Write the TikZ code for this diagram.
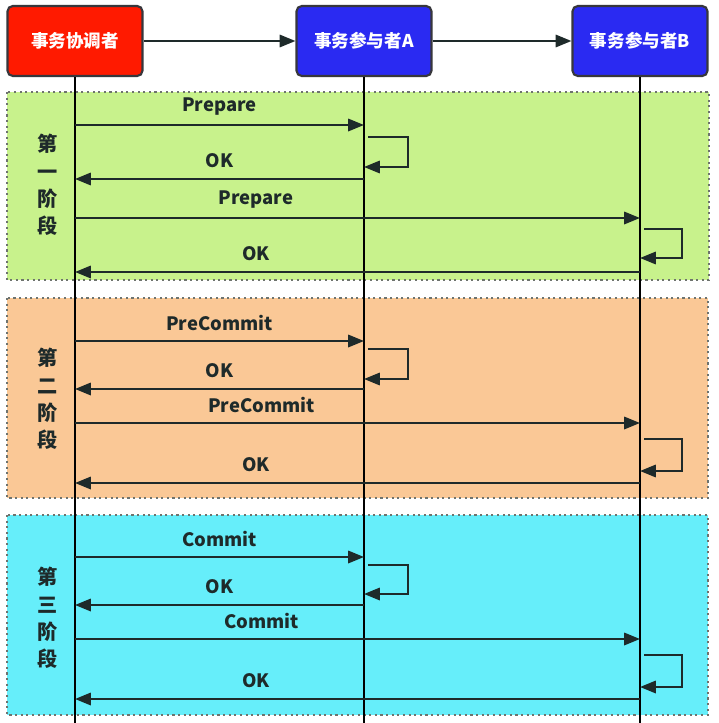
\documentclass[tikz,border=0pt]{standalone}
\usepackage{fontspec}
\setmainfont{Noto Sans CJK SC}
\usetikzlibrary{arrows.meta}

\definecolor{hdrred}{RGB}{255,26,0}
\definecolor{hdrblue}{RGB}{42,42,242}
\definecolor{hdrline}{RGB}{55,55,60}
\definecolor{phgreen}{RGB}{200,242,140}
\definecolor{phorange}{RGB}{250,200,150}
\definecolor{phcyan}{RGB}{102,238,250}
\definecolor{dotgray}{RGB}{110,115,110}
\definecolor{ink}{RGB}{30,42,42}

\tikzset{
  hdr/.style={draw=hdrline, line width=1.2pt, rounded corners=3pt,
    minimum width=2.7cm, minimum height=1.4cm, text=white,
    font=\bfseries\fontsize{10}{12}\selectfont},
  phase/.style={draw=dotgray, line width=1.4pt, dash pattern=on 1.2pt off 2pt},
  life/.style={line width=1.1pt, black},
  msg/.style={line width=1.3pt, draw=ink, -{Triangle[length=9pt,width=7pt]}},
  lbl/.style={yshift=3.6mm, text=ink, font=\bfseries\fontsize{10.5}{12}\selectfont},
  stage/.style={text=ink, align=center, font=\bfseries\fontsize{11.5}{15.5}\selectfont},
}

\begin{document}
\begin{tikzpicture}[x=0.02cm, y=-0.02cm]
    \useasboundingbox[fill=white] (0,0) rectangle (718,723);

    % phase backgrounds
    \draw[phase, fill=phgreen] (7,92) rectangle (709,280);
    \draw[phase, fill=phorange] (7,298) rectangle (708,498);
    \draw[phase, fill=phcyan] (7,515) rectangle (708,715);

    \node[stage] (st1) at (48,185) {第\\一\\阶\\段};
    \node[stage] (st2) at (48,399) {第\\二\\阶\\段};
    \node[stage] (st3) at (48,618) {第\\三\\阶\\段};

    % participants
    \node[hdr, fill=hdrred] (coord) at (75,41) {事务协调者};
    \node[hdr, fill=hdrblue] (pa) at (364,41) {事务参与者A};
    \node[hdr, fill=hdrblue] (pb) at (640,41) {事务参与者B};

    \draw[msg] (coord) -- (pa);
    \draw[msg] (pa) -- (pb);

    \coordinate (bot) at (0,723);
    \draw[life] (coord.south) -- (coord.south |- bot);
    \draw[life] (pa.south) -- (pa.south |- bot);
    \draw[life] (pb.south) -- (pb.south |- bot);

    % phase 1
    \coordinate (g1) at (0,125);
    \coordinate (g2) at (0,137);
    \coordinate (g3) at (0,167);
    \coordinate (g4) at (0,179);
    \coordinate (g5) at (0,218);
    \coordinate (g6) at (0,229);
    \coordinate (g7) at (0,258);
    \coordinate (g8) at (0,272);
    \draw[msg] (coord |- g1) -- (pa |- g1) node[lbl, midway] {Prepare};
    \draw[msg] (pa |- g2) ++(4,0) -- ++(40,0) |- (pa |- g3);
    \draw[msg] (pa |- g4) -- (coord |- g4) node[lbl, midway] {OK};
    \draw[msg] (coord |- g5) -- (pb |- g5) node[lbl, pos=0.32] {Prepare};
    \draw[msg] (pb |- g6) ++(4,0) -- ++(38,0) |- (pb |- g7);
    \draw[msg] (pb |- g8) -- (coord |- g8) node[lbl, pos=0.68] {OK};

    % phase 2
    \coordinate (o1) at (0,341);
    \coordinate (o2) at (0,349);
    \coordinate (o3) at (0,379);
    \coordinate (o4) at (0,389);
    \coordinate (o5) at (0,423);
    \coordinate (o6) at (0,439);
    \coordinate (o7) at (0,471);
    \coordinate (o8) at (0,483);
    \draw[msg] (coord |- o1) -- (pa |- o1) node[lbl, midway] {PreCommit};
    \draw[msg] (pa |- o2) ++(4,0) -- ++(40,0) |- (pa |- o3);
    \draw[msg] (pa |- o4) -- (coord |- o4) node[lbl, midway] {OK};
    \draw[msg] (coord |- o5) -- (pb |- o5) node[lbl, pos=0.33] {PreCommit};
    \draw[msg] (pb |- o6) ++(4,0) -- ++(38,0) |- (pb |- o7);
    \draw[msg] (pb |- o8) -- (coord |- o8) node[lbl, pos=0.68] {OK};

    % phase 3
    \coordinate (c1) at (0,557);
    \coordinate (c2) at (0,565);
    \coordinate (c3) at (0,594);
    \coordinate (c4) at (0,605);
    \coordinate (c5) at (0,639);
    \coordinate (c6) at (0,655);
    \coordinate (c7) at (0,687);
    \coordinate (c8) at (0,699);
    \draw[msg] (coord |- c1) -- (pa |- c1) node[lbl, midway] {Commit};
    \draw[msg] (pa |- c2) ++(4,0) -- ++(40,0) |- (pa |- c3);
    \draw[msg] (pa |- c4) -- (coord |- c4) node[lbl, midway] {OK};
    \draw[msg] (coord |- c5) -- (pb |- c5) node[lbl, pos=0.33] {Commit};
    \draw[msg] (pb |- c6) ++(4,0) -- ++(38,0) |- (pb |- c7);
    \draw[msg] (pb |- c8) -- (coord |- c8) node[lbl, pos=0.68] {OK};
\end{tikzpicture}
\end{document}
